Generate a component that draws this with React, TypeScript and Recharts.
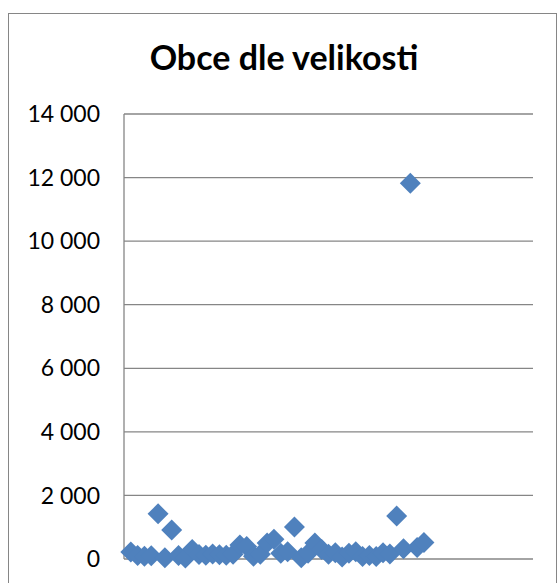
import { ScatterChart, Scatter, XAxis, YAxis, CartesianGrid } from 'recharts';

// population of each municipality, in the order they appear on the chart
const populations: number[] = [
  220, 110, 90, 100, 1420, 40, 910, 110, 30, 300,
  140, 120, 160, 130, 120, 150, 440, 390, 90, 150,
  500, 620, 180, 230, 1010, 40, 180, 500, 300, 150,
  200, 60, 180, 230, 80, 110, 80, 200, 160, 1350,
  320, 11820, 360, 520,
];

const yTicks: number[] = [0, 2000, 4000, 6000, 8000, 10000, 12000, 14000];
const xDomain: [number, number] = [0, 60];
const title = 'Obce dle velikosti';

const data = populations.map((v, i) => ({ idx: i + 1, obyvatel: v }));

const formatTick = (v: number) =>
  v >= 1000 ? `${Math.floor(v / 1000)} ${String(v % 1000).padStart(3, '0')}` : String(v);

const Diamond = (props: any) => {
  const { cx, cy } = props;
  const r = 10.5;
  return (
    <polygon
      points={`${cx},${cy - r} ${cx + r},${cy} ${cx},${cy + r} ${cx - r},${cy}`}
      fill="#4F81BD"
    />
  );
};

const App = () => {
  return (
    <div
      style={{
        position: 'fixed',
        left: 0,
        top: 0,
        width: 559,
        height: 583,
        overflow: 'hidden',
        background: '#fff',
      }}
    >
      <div
        style={{
          position: 'absolute',
          left: 8,
          top: 13,
          width: 549,
          height: 600,
          boxSizing: 'border-box',
          border: '1px solid #868686',
        }}
      />
      <div
        style={{
          position: 'absolute',
          left: 8,
          top: 36,
          width: 552,
          textAlign: 'center',
          fontFamily: 'Lato, sans-serif',
          fontWeight: 700,
          fontSize: 34,
          lineHeight: '41px',
          color: '#000',
        }}
      >
        {title}
      </div>
      <div style={{ position: 'absolute', left: 8, top: 13 }}>
        <ScatterChart
          width={548}
          height={600}
          margin={{ top: 101, right: 23, bottom: 54, left: 0 }}
        >
          <CartesianGrid vertical={false} stroke="#868686" strokeWidth={1.3} />
          <XAxis type="number" dataKey="idx" domain={xDomain} hide />
          <YAxis
            type="number"
            dataKey="obyvatel"
            domain={[0, 14000]}
            ticks={yTicks}
            interval={0}
            width={116}
            tickFormatter={formatTick}
            tickLine={false}
            tickSize={0}
            tickMargin={24}
            axisLine={{ stroke: '#868686', strokeWidth: 1.3 }}
            tick={{ fill: '#000', fontSize: 23, fontFamily: 'Lato, sans-serif' }}
          />
          <Scatter data={data} shape={<Diamond />} isAnimationActive={false} />
        </ScatterChart>
      </div>
    </div>
  );
};

export default App;
